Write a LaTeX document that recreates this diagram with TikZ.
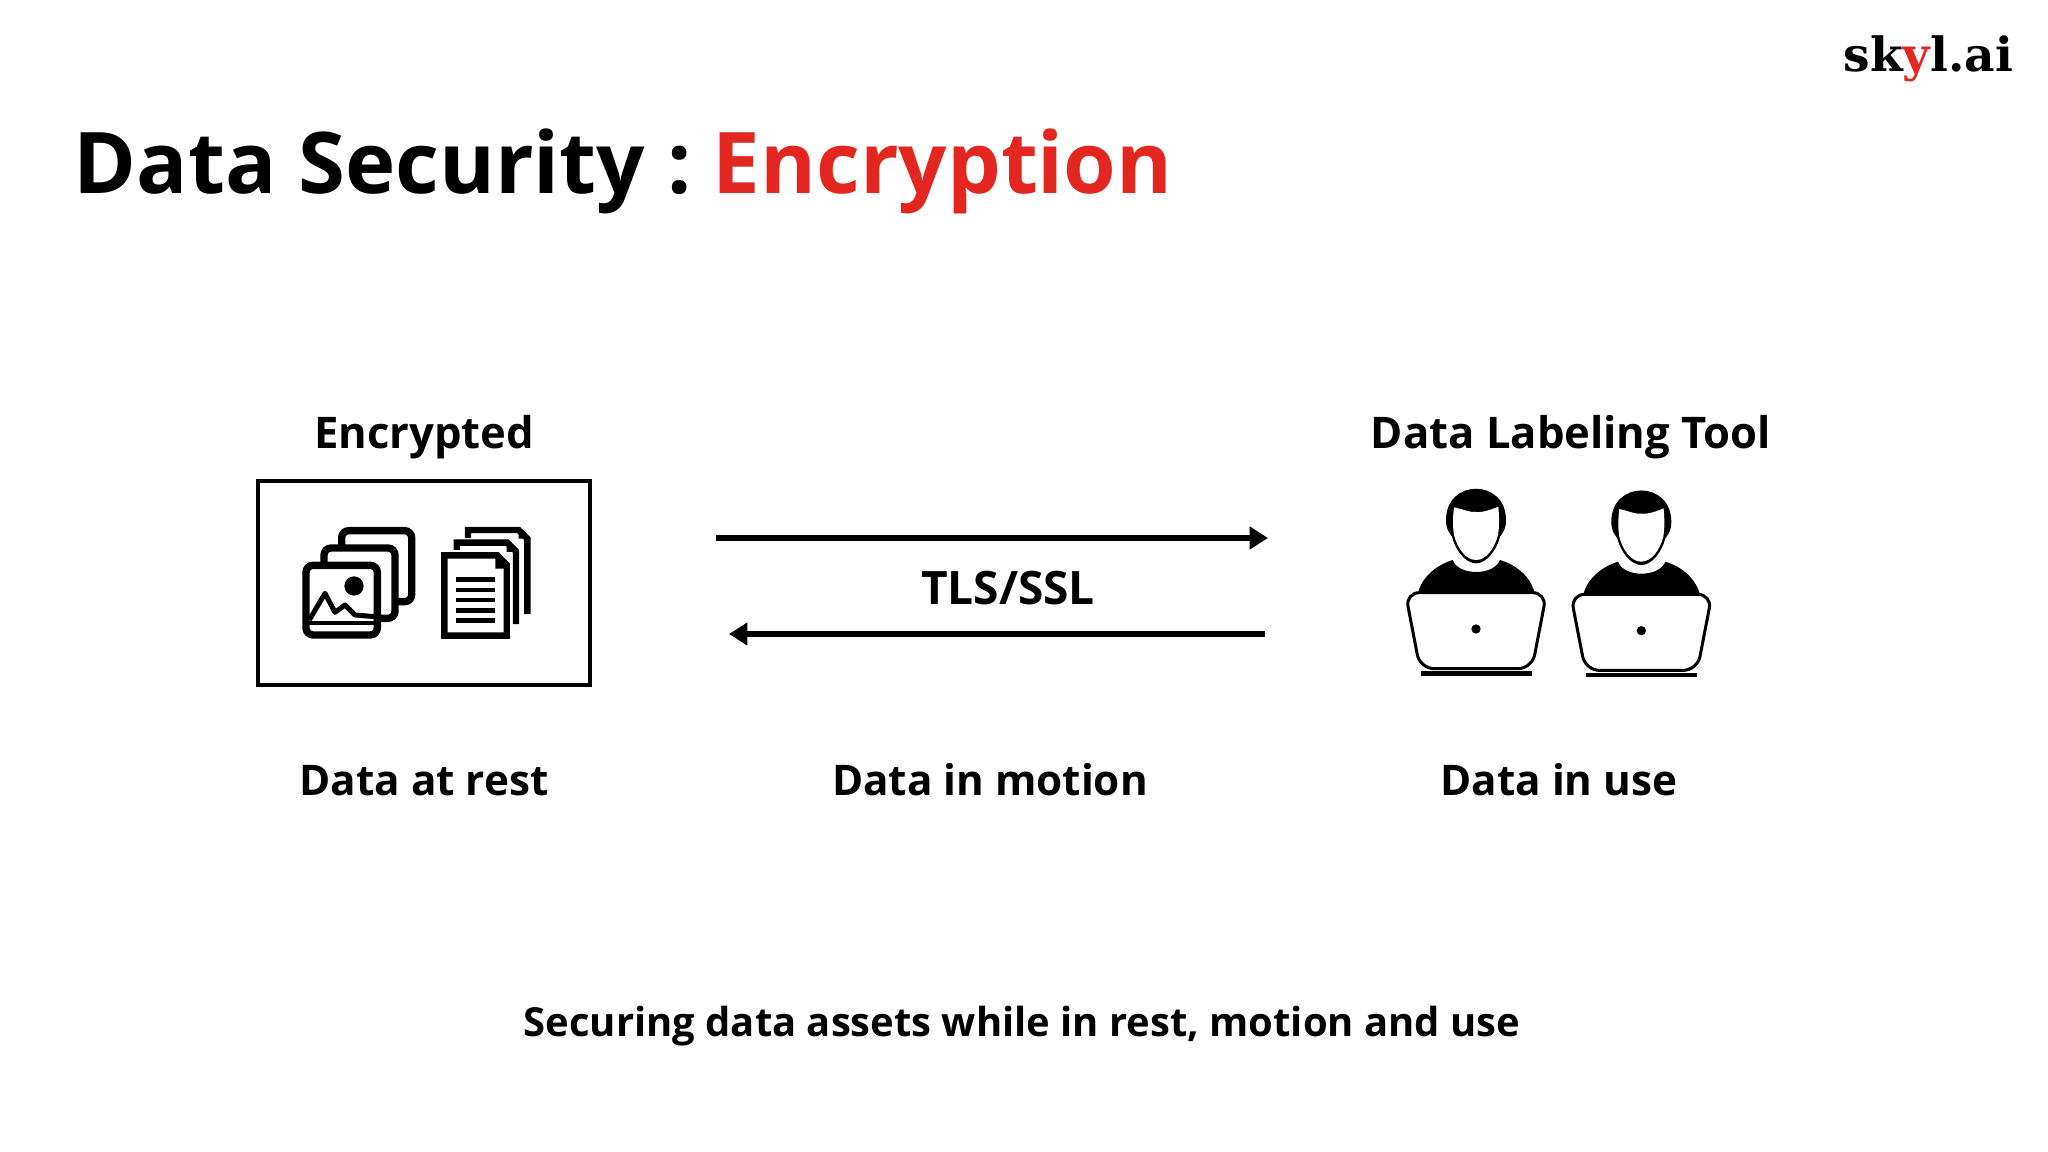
\documentclass[tikz,border=0pt]{standalone}
\usepackage{fontspec}
\setmainfont{Open Sans}
\newfontfamily\logofont{DejaVu Serif}
\usetikzlibrary{arrows.meta}
\definecolor{skylred}{HTML}{E3261F}
\tikzset{
  titletext/.style={inner sep=0,anchor=base west,font=\fontsize{24.2}{30}\selectfont\bfseries},
  labeltext/.style={inner sep=0,anchor=base,font=\fontsize{12}{15}\selectfont\bfseries},
  headtext/.style={labeltext,font=\fontsize{12.4}{15}\selectfont\bfseries},
  flowarrow/.style={line width=6.5*0.2845pt,-{Triangle[length=5.2pt,width=6.2pt]}},
  zoomed/.style={x=0.01cm/3,y=-0.01cm/3},
  iconline/.style={line width=22*0.2845pt/3,rounded corners=2pt},
  docline/.style={line width=19*0.2845pt/3},
  textline/.style={line width=13*0.2845pt/3},
}
\begin{document}
\begin{tikzpicture}[x=0.01cm,y=-0.01cm]
\useasboundingbox (0,0) rectangle (2048,1152);
\node[titletext] (title) at (73,194) {Data Security :\hspace{-2.4pt} \textcolor{skylred}{Encryption}};
\node[inner sep=0,anchor=base west,font=\fontsize{13.4}{15}\logofont\bfseries] (logo) at (1843,72) {sk\textcolor{skylred}{y}l.ai};
\node[headtext] (encrypted) at (424,449) {Encrypted};
\node[headtext] (tool) at (1571,449) {Data Labeling Tool};
\node[labeltext] (rest) at (424,795) {Data at rest};
\node[labeltext] (motion) at (990,795) {Data in motion};
\node[labeltext] (use) at (1559,795) {Data in use};
\node[labeltext,font=\fontsize{11.36}{14}\selectfont\bfseries] (summary) at (1022,1036) {Securing data assets while in rest, motion and use};
\node[labeltext,font=\fontsize{13.1}{15}\selectfont\bfseries] (tls) at (1008,604) {TLS/SSL};
\draw[line width=4*0.2845pt] (258,481) rectangle (590,685);
% arrows
\coordinate (outa) at (716,538);
\coordinate (outb) at (1268,538);
\coordinate (backa) at (1265,634);
\coordinate (backb) at (729,634);
\draw[flowarrow] (outa)--(outb);
\draw[flowarrow] (backa)--(backb);
% picture stack
\begin{scope}[shift={(240,470)},zoomed]
\draw[iconline,fill=white] (305,182) rectangle (515,395);
\draw[iconline,fill=white] (252,234) rectangle (465,445);
\draw[iconline,fill=white] (198,286) rectangle (412,495);
\draw[line width=12*0.2845pt/3] (205,458)--(405,458);
\fill (342,348) circle (29);
\draw[line width=15*0.2845pt/3,line join=round] (208,450)--(255,370)--(285,427)--(315,405)--(345,435)--(405,440);
% document stack
\draw[docline] (684,204)--(684,180)--(836,180)--(862,206)--(862,432);
\fill (836,180)--(868,206)--(836,206)--cycle;
\draw[docline] (650,240)--(650,218)--(802,218)--(828,244)--(828,462);
\fill (800,218)--(836,246)--(800,246)--cycle;
\draw[docline,fill=white] (613,256)--(772,256)--(800,284)--(800,497)--(613,497)--cycle;
\fill (766,256)--(806,296)--(766,296)--cycle;
\foreach \ly in {328,360,390,422,452}
  \draw[textline] (648,\ly)--(765,\ly);
\end{scope}
% two people with laptops
\foreach \px/\py in {1380/470,1545.3/471.7} {
\begin{scope}[shift={(\px,\py)},zoomed]
\fill (113,372) .. controls (125,320) and (170,285) .. (218,270) .. controls (235,318) and (342,318) .. (360,270) .. controls (410,285) and (452,320) .. (465,372)--cycle;
\fill (198,150) .. controls (198,25) and (378,25) .. (378,150) .. controls (378,180) and (366,190) .. (360,200) .. controls (350,240) and (320,280) .. (288,280) .. controls (256,280) and (226,240) .. (216,200) .. controls (210,190) and (198,180) .. (198,150)--cycle;
\fill[white] (222,112) .. controls (250,118) and (270,128) .. (288,126) .. controls (310,128) and (335,118) .. (355,110) .. controls (358,145) and (358,170) .. (354,195) .. controls (344,235) and (318,270) .. (288,270) .. controls (258,270) and (232,235) .. (222,195) .. controls (218,170) and (218,145) .. (222,112)--cycle;
\draw[line width=9*0.2845pt/3,fill=white,rounded corners=4pt] (76,368)--(500,368)--(456,596)--(120,596)--cycle;
\fill (288,477) circle (14);
\fill (122,604) rectangle (455,617);
\end{scope}
}
\end{tikzpicture}
\end{document}
